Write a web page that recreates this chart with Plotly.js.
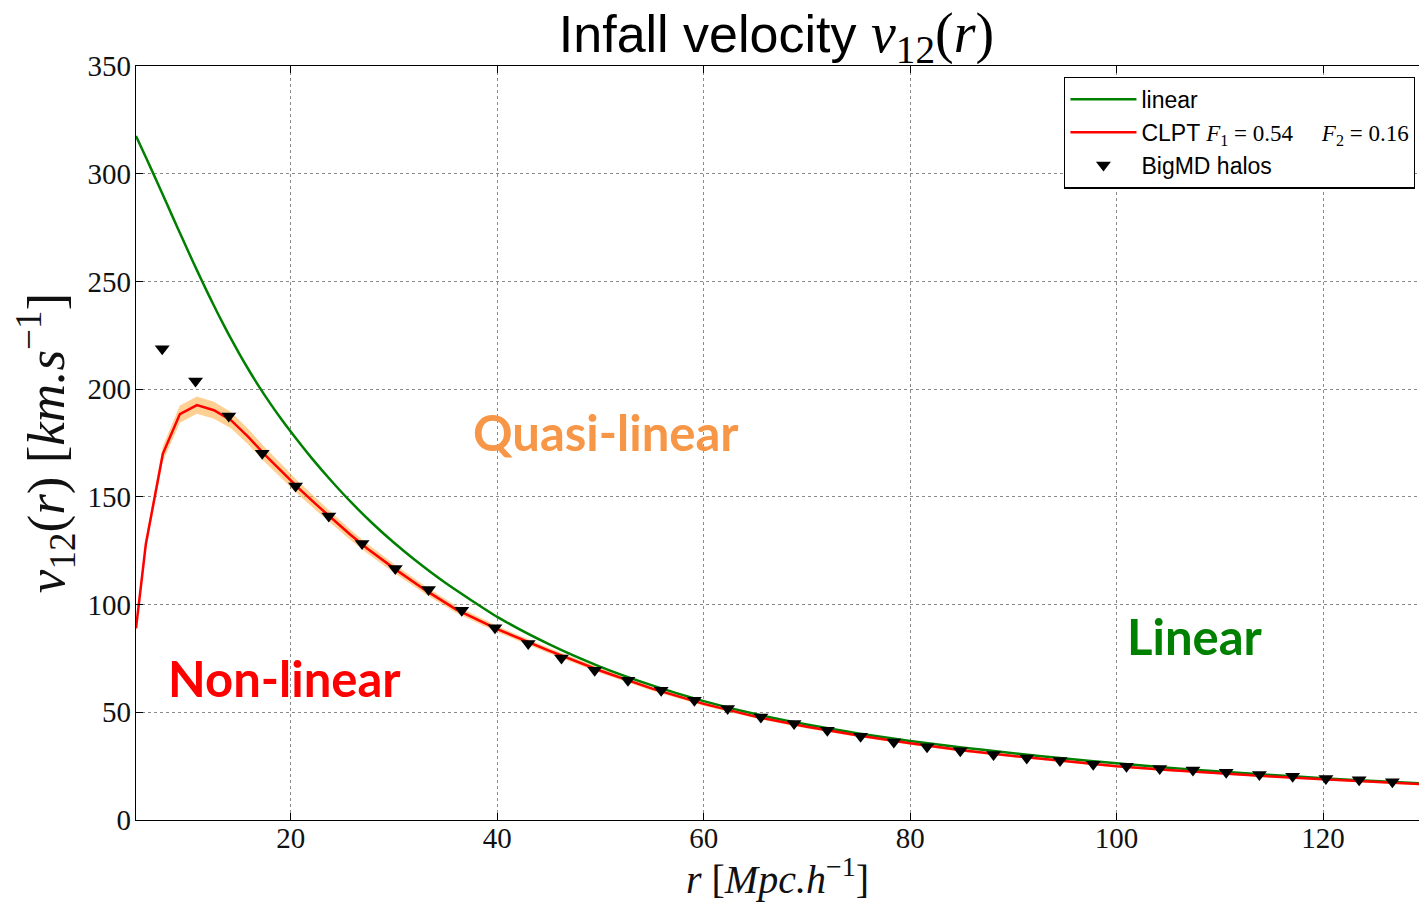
<!DOCTYPE html>
<html>
<head>
<meta charset="utf-8">
<script src="https://cdn.plot.ly/plotly-3.0.1.min.js"></script>
<style>
  html, body { margin: 0; padding: 0; background: #fff; }
  #chart { width: 1419px; height: 902px; }
</style>
</head>
<body>
<div id="chart"></div>
<script>
// Linear theory prediction of the pairwise infall velocity
const rLinear = [5, 6, 7, 8, 9, 10, 11, 12, 13, 14, 15, 16, 17, 18, 19, 20, 22, 24, 26, 28, 30, 32, 35, 40, 45, 50, 55, 60, 65, 70, 75, 80, 85, 90, 95, 100, 105, 110, 115, 120, 125, 130];
const vLinear = [317.5, 307.2, 296.6, 285.9, 275.2, 264.6, 254.2, 244.1, 234.4, 225.2, 216.5, 208.3, 200.6, 193.4, 186.6, 180.2, 168.1, 157.0, 146.7, 137.3, 128.7, 120.8, 110.0, 94.3, 81.6, 71.1, 62.5, 55.2, 49.2, 44.3, 40.2, 36.7, 33.7, 31.0, 28.5, 26.3, 24.3, 22.5, 20.9, 19.4, 18.1, 16.9];

// CLPT prediction (F1 = 0.54, F2 = 0.16) and its uncertainty half-width
const rCLPT = [5, 5.95, 7.6, 9.25, 10.9, 12.55, 14.2, 15.85, 17.5, 19.15, 20.8, 22.45, 24.1, 25.75, 27.4, 30, 33, 36, 40, 45, 50, 55, 60, 65, 70, 75, 80, 85, 90, 95, 100, 105, 110, 115, 120, 125, 130];
const vCLPT = [89, 128, 170, 188.4, 192.6, 190.2, 185.6, 178, 169.5, 161.5, 153.8, 146.5, 139.3, 132.5, 126, 116.8, 106.8, 97.8, 88.6, 78.6, 69.3, 61.0, 53.9, 48.0, 43.3, 39.2, 35.6, 32.4, 29.7, 27.2, 25.0, 23.2, 21.6, 20.2, 18.9, 17.7, 16.5];
const vCLPTerr = [1.5, 2.5, 3.5, 4, 4, 4, 3.8, 3.6, 3.4, 3.2, 3, 2.8, 2.6, 2.4, 2.2, 2, 1.8, 1.6, 1.4, 1.2, 1.1, 1, 0.9, 0.8, 0.8, 0.7, 0.7, 0.7, 0.6, 0.6, 0.6, 0.6, 0.5, 0.5, 0.5, 0.5, 0.5];

// BigMD halo measurements
const rHalos = [7.54, 10.77, 13.99, 17.23, 20.46, 23.68, 26.9, 30.12, 33.34, 36.56, 39.78, 43.0, 46.22, 49.44, 52.66, 55.88, 59.1, 62.32, 65.54, 68.76, 71.98, 75.2, 78.42, 81.64, 84.86, 88.08, 91.3, 94.52, 97.74, 100.96, 104.18, 107.4, 110.62, 113.84, 117.06, 120.28, 123.5, 126.72];
const vHalos = [218.8, 203.8, 187.5, 170.3, 155.0, 141.1, 128.3, 116.8, 107.0, 97.4, 89.2, 81.9, 75.2, 69.5, 64.9, 60.2, 55.6, 51.7, 47.8, 44.8, 41.7, 38.9, 36.2, 34.0, 32.1, 30.4, 28.8, 27.6, 25.9, 25.0, 23.9, 23.2, 22.2, 21.1, 20.3, 19.3, 18.7, 17.7];

const xTicks = [20, 40, 60, 80, 100, 120];
const yTicks = [0, 50, 100, 150, 200, 250, 300, 350];

const serif = 'Liberation Serif, DejaVu Serif, serif';
const sans = 'Liberation Sans, Arial, sans-serif';

const bandLow = vCLPT.map((v, i) => v - vCLPTerr[i]);
const bandHigh = vCLPT.map((v, i) => v + vCLPTerr[i]);

const traces = [
  {
    x: rCLPT, y: bandLow, mode: 'lines', line: {width: 0, color: 'rgba(0,0,0,0)'},
    showlegend: false, hoverinfo: 'skip'
  },
  {
    x: rCLPT, y: bandHigh, mode: 'lines', line: {width: 0, color: 'rgba(0,0,0,0)'},
    fill: 'tonexty', fillcolor: 'rgba(255,170,60,0.55)',
    showlegend: false, hoverinfo: 'skip'
  },
  {
    x: rLinear, y: vLinear, mode: 'lines', name: 'linear',
    line: {color: '#008000', width: 2.5, shape: 'spline', smoothing: 0.6}
  },
  {
    x: rCLPT, y: vCLPT, mode: 'lines',
    name: 'CLPT <span style="font-family:Liberation Serif"><i>F</i><sub>1</sub> = 0.54 &#160;&#160;&#160;&#160;<i>F</i><sub>2</sub> = 0.16</span>',
    line: {color: '#ff0000', width: 2.5}
  },
  {
    x: rHalos, y: vHalos, mode: 'markers', name: 'BigMD halos',
    marker: {symbol: 'triangle-down', size: 13, color: '#000'}
  }
];

const axisCommon = {
  showline: true, linecolor: '#000', linewidth: 1.3,
  ticks: 'inside', ticklen: 7, tickwidth: 1, tickcolor: '#000',
  showgrid: true, gridcolor: '#8a8a8a', griddash: 'dot', gridwidth: 1,
  zeroline: false, automargin: false,
  tickfont: {family: serif, size: 29, color: '#111'}
};

const layout = {
  width: 1419, height: 902,
  margin: {l: 136, r: 0, t: 66, b: 82},
  paper_bgcolor: '#fff', plot_bgcolor: '#fff',
  title: {
    text: 'Infall velocity <span style="font-family:Liberation Serif;font-size:56px"><i>v</i><sub>12</sub>(<i>r</i>)</span>',
    font: {family: sans, size: 52, color: '#000'},
    x: 0.5472, xanchor: 'center', xref: 'container',
    y: 0.963, yanchor: 'middle', yref: 'container'
  },
  xaxis: Object.assign({}, axisCommon, {
    range: [5, 129.3], tickvals: xTicks, mirror: 'ticks',
    ticklabelstandoff: -8,
    title: {text: '<i>r</i> [<i>Mpc.h</i><sup>−1</sup>]', font: {family: serif, size: 40, color: '#111'}, standoff: 10}
  }),
  yaxis: Object.assign({}, axisCommon, {
    range: [0, 350], tickvals: yTicks, mirror: false,
    ticklabelstandoff: -2,
    title: {text: '<i>v</i><sub>12</sub>(<i>r</i>) [<i>km.s</i><sup>−1</sup>]', font: {family: serif, size: 53, color: '#111'}, standoff: 6}
  }),
  legend: {
    x: 0.997, xanchor: 'right', y: 0.986, yanchor: 'top',
    bgcolor: '#fff', bordercolor: '#000', borderwidth: 1.3,
    font: {family: sans, size: 23, color: '#000'},
    traceorder: 'normal', itemwidth: 66
  },
  annotations: [
    {x: 50.5, y: 180, xref: 'x', yref: 'y', text: '<b>Quasi-linear</b>', showarrow: false,
     font: {family: 'Lato, sans-serif', size: 49, color: '#f79646'}},
    {x: 19.4, y: 66, xref: 'x', yref: 'y', text: '<b>Non-linear</b>', showarrow: false,
     font: {family: 'Lato, sans-serif', size: 49, color: '#ff0000'}},
    {x: 107.6, y: 85.5, xref: 'x', yref: 'y', text: '<b>Linear</b>', showarrow: false,
     font: {family: 'Lato, sans-serif', size: 49, color: '#008000'}}
  ],
  showlegend: true
};

Plotly.newPlot('chart', traces, layout, {displayModeBar: false, staticPlot: true});
</script>
</body>
</html>
